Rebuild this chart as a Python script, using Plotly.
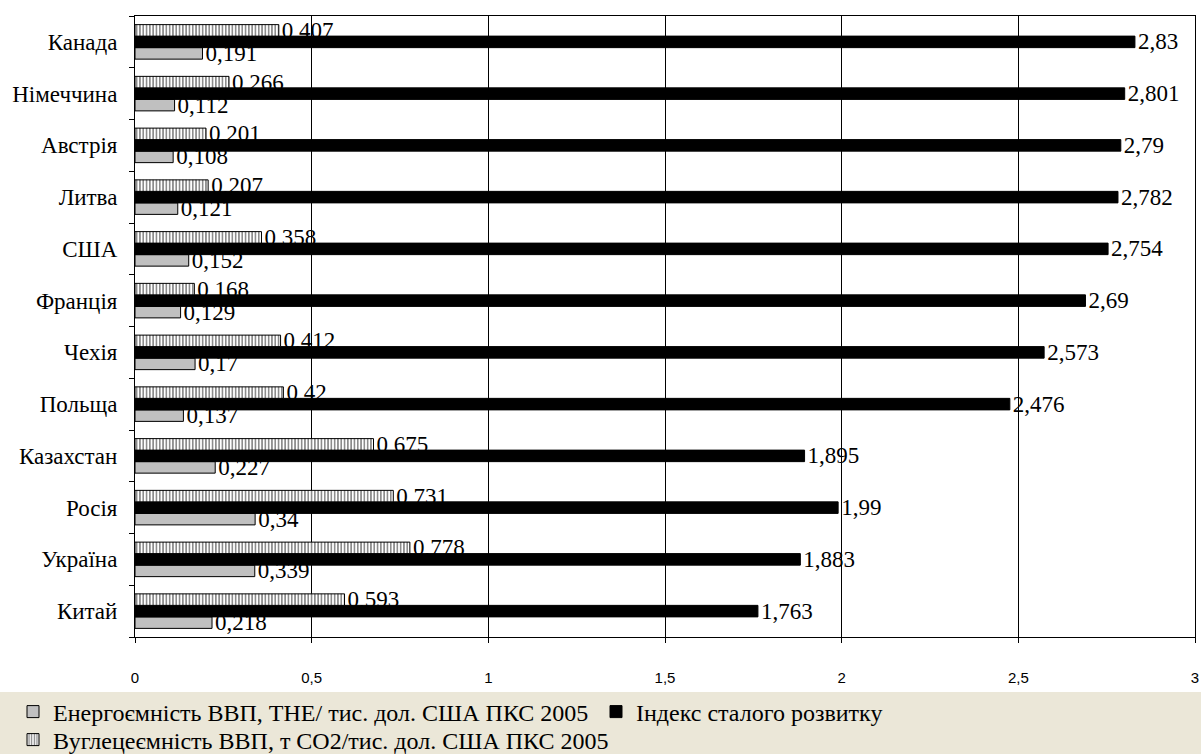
import plotly.graph_objects as go

countries = ["Канада", "Німеччина", "Австрія", "Литва", "США", "Франція",
             "Чехія", "Польща", "Казахстан", "Росія", "Україна", "Китай"]
energy = [0.191, 0.112, 0.108, 0.121, 0.152, 0.129, 0.17, 0.137, 0.227, 0.34, 0.339, 0.218]
index_sd = [2.83, 2.801, 2.79, 2.782, 2.754, 2.69, 2.573, 2.476, 1.895, 1.99, 1.883, 1.763]
carbon = [0.407, 0.266, 0.201, 0.207, 0.358, 0.168, 0.412, 0.42, 0.675, 0.731, 0.778, 0.593]

names = ["Енергоємність ВВП, ТНЕ/ тис. дол. США ПКС 2005",
         "Індекс сталого розвитку",
         "Вуглецеємність ВВП, т CO2/тис. дол. США ПКС 2005"]

# bottom-to-top order for plotting
cats = countries[::-1]


def fmt(vals):
    return [f"{v:g}".replace(".", ",") for v in vals[::-1]]


SERIF = "Liberation Serif, Times New Roman, serif"
label_font = dict(family=SERIF, size=23, color="black")

fig = go.Figure()
fig.add_trace(go.Bar(
    y=cats, x=energy[::-1], orientation="h", name=names[0],
    legend="legend",
    marker=dict(color="#c0c0c0", line=dict(color="black", width=1)),
    text=fmt(energy), textposition="outside", textfont=label_font,
    constraintext="none", cliponaxis=False,
))
fig.add_trace(go.Bar(
    y=cats, x=index_sd[::-1], orientation="h", name=names[1],
    legend="legend2",
    marker=dict(color="black", line=dict(color="black", width=1)),
    text=fmt(index_sd), textposition="outside", textfont=label_font,
    constraintext="none", cliponaxis=False,
))
fig.add_trace(go.Bar(
    y=cats, x=carbon[::-1], orientation="h", name=names[2],
    legend="legend3",
    marker=dict(color="white", line=dict(color="black", width=1),
                pattern=dict(shape="|", fgcolor="black", bgcolor="white",
                             size=3.3, solidity=0.45)),
    text=fmt(carbon), textposition="outside", textfont=label_font,
    constraintext="none", cliponaxis=False,
))

W, H = 1201, 754
ml, mr, mt, mb = 135, 6, 16, 117
pw = W - ml - mr
ph = H - mt - mb
bottom_px = mt + ph


def px_x(x):
    return (x - ml) / pw


def px_y(y):
    return (bottom_px - y) / ph


legend_font = dict(family=SERIF, size=24, color="black")


def leg(xpx, ypx):
    return dict(
        xref="paper", yref="paper",
        orientation="v", x=px_x(xpx), xanchor="left",
        y=px_y(ypx), yanchor="middle",
        font=legend_font, bgcolor="rgba(0,0,0,0)", itemwidth=30,
    )


fig.update_layout(
    width=W, height=H,
    margin=dict(l=ml, r=mr, t=mt, b=mb, autoexpand=False),
    paper_bgcolor="white", plot_bgcolor="white",
    barmode="group", bargap=0.333, bargroupgap=0,
    separators=", ",
    showlegend=True,
    legend=leg(13, 712),
    legend2=leg(596, 712),
    legend3=leg(13, 740),
    shapes=[dict(
        type="rect", xref="paper", yref="paper",
        x0=px_x(0), x1=px_x(W),
        y0=px_y(692), y1=px_y(H),
        fillcolor="#ebe7d8", line=dict(width=0), layer="below",
    )],
    xaxis=dict(
        range=[0, 3], dtick=0.5, tick0=0,
        showgrid=True, gridcolor="black", gridwidth=1,
        showline=True, linecolor="black", linewidth=1, mirror=True,
        ticks="outside", ticklen=5, tickcolor="black",
        tickfont=dict(family="Liberation Sans, Arial, sans-serif", size=15, color="black"),
        ticklabelstandoff=22, zeroline=False,
    ),
    yaxis=dict(
        type="category", categoryorder="array", categoryarray=cats,
        showgrid=False, showline=True, linecolor="black", linewidth=1, mirror=True,
        ticks="outside", ticklen=5, tickcolor="black", tickson="boundaries",
        tickfont=dict(family=SERIF, size=23, color="black"),
        ticklabelstandoff=12,
    ),
)

fig.write_html("out.html")
